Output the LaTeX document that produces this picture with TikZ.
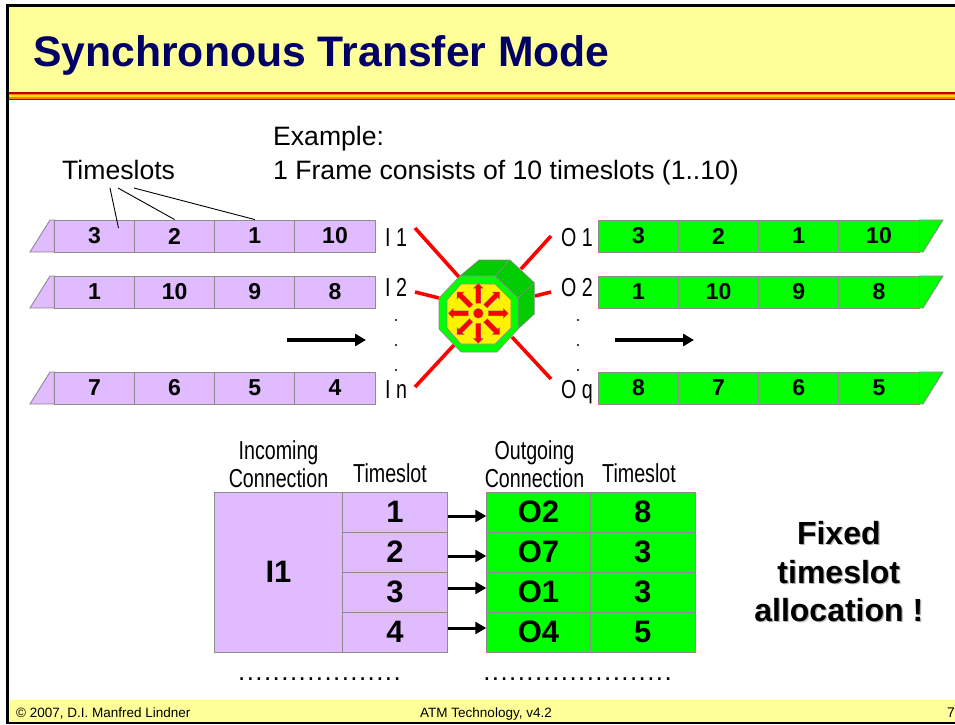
\documentclass[tikz,border=0pt]{standalone}
\usepackage{fontspec}
\setmainfont{Liberation Sans}
\newfontfamily\narrowfont[FakeStretch=0.756]{Liberation Sans}
\newfontfamily\dotfont[LetterSpace=5.4]{Liberation Sans}
\usetikzlibrary{arrows.meta}
\definecolor{lilac}{RGB}{224,187,255}
\definecolor{gogreen}{RGB}{0,255,0}
\definecolor{darkgreen}{RGB}{0,204,0}
\definecolor{headyellow}{RGB}{255,255,153}
\definecolor{titleblue}{RGB}{0,0,102}
\definecolor{edgegray}{RGB}{140,140,140}
\tikzset{
  cellin/.style={draw=edgegray,line width=0.9pt,fill=lilac,minimum width=80.2pt,minimum height=32pt,inner sep=0pt,font=\fontsize{23}{23}\selectfont\bfseries},
  cellout/.style={cellin,fill=gogreen},
  tabin/.style={cellin,minimum width=104.3pt,minimum height=40pt,font=\fontsize{31}{31}\selectfont\bfseries},
  tabout/.style={tabin,fill=gogreen},
  lbl/.style={inner sep=0pt,font=\fontsize{26.6}{28}\selectfont},
  narrow/.style={inner sep=0pt,align=center,font=\narrowfont\fontsize{26}{28.5}\selectfont},
  footer/.style={inner sep=0pt,font=\fontsize{13.5}{16}\selectfont},
  redline/.style={draw=red,line width=3.6pt},
  flow/.style={line width=3.2pt,-{Triangle[length=11pt,width=12pt]}},
  shortflow/.style={line width=3pt,-{Triangle[length=11pt,width=12pt]}},
  dots/.style={inner sep=0pt,font=\dotfont\fontsize{26}{26}\selectfont},
  spoke/.style={draw=edgegray,line width=0.3pt,fill=red}
}
\begin{document}
\begin{tikzpicture}[x=1pt,y=-1pt]
    \useasboundingbox (0,0) rectangle (955,724);
    % header and footer
    \fill[white] (0,0) rectangle (955,724);
    \fill[headyellow] (7,6) rectangle (955,92);
    \fill[headyellow] (7,700) rectangle (955,722);
    \fill[red!75!black] (7,92) rectangle (955,100);
    \fill[orange] (7,93.5) rectangle (955,98.5);
    \fill[yellow!85!orange] (7,95.2) rectangle (955,96.8);
    \draw[line width=2.6pt] (7.7,723) -- (7.7,5.4) -- (955,5.4);
    \draw[line width=2.4pt] (6,722.8) -- (955,722.8);
    \node[anchor=base west,inner sep=0pt,text=titleblue,font=\fontsize{42.7}{43}\selectfont\bfseries] (title) at (33,66) {Synchronous Transfer Mode};
    \node[anchor=base west,footer] (copyright) at (16,717) {© 2007, D.I. Manfred Lindner};
    \node[anchor=base,footer] (version) at (486,717) {ATM Technology, v4.2};
    \node[anchor=base west,footer,font=\fontsize{14}{14}\selectfont] (page) at (947,717) {7};

    % top labels
    \node[lbl,anchor=base west] (example) at (273,145) {Example:};
    \node[lbl,anchor=base west] (frame) at (273,179) {1 Frame consists of 10 timeslots (1..10)};
    \node[lbl,anchor=base west] (slots) at (62,179) {Timeslots};

    % incoming frames
    \foreach \row/\ypos/\va/\vb/\vc/\vd in {a/236/3/2/1/10,b/292/1/10/9/8,c/388/7/6/5/4}{
        \filldraw[draw=edgegray,line width=0.9pt,fill=lilac] (30,\ypos+16) -- (50,\ypos-16) -- (54.3,\ypos-16) -- (54.3,\ypos+16) -- cycle;
        \node[cellin] (in\row1) at (94.4,\ypos) {\va};
        \node[cellin] (in\row2) at (174.6,\ypos) {\vb};
        \node[cellin] (in\row3) at (254.8,\ypos) {\vc};
        \node[cellin] (in\row4) at (335,\ypos) {\vd};
    }
    % outgoing frames
    \foreach \row/\ypos/\va/\vb/\vc/\vd in {a/236/3/2/1/10,b/292/1/10/9/8,c/388/8/7/6/5}{
        \filldraw[draw=edgegray,line width=0.9pt,fill=gogreen] (919,\ypos-16) -- (943,\ypos-16) -- (923,\ypos+16) -- (919,\ypos+16) -- cycle;
        \node[cellout] (out\row1) at (638.4,\ypos) {\va};
        \node[cellout] (out\row2) at (718.6,\ypos) {\vb};
        \node[cellout] (out\row3) at (798.8,\ypos) {\vc};
        \node[cellout] (out\row4) at (879,\ypos) {\vd};
    }
    % pointers to the slots
    \coordinate (ptra) at (110,188);
    \coordinate (ptrb) at (118,188);
    \coordinate (ptrc) at (134,188);
    \coordinate (ptrend) at (118.5,228);
    \draw[line width=0.9pt] (ptra) -- (ptrend);
    \draw[line width=0.9pt] (ptrb) -- (ina2.north);
    \draw[line width=0.9pt] (ptrc) -- (ina3.north);

    % direction arrows
    \coordinate (fla) at (287,340);
    \coordinate (flb) at (366,340);
    \coordinate (flc) at (615,340);
    \coordinate (fld) at (694,340);
    \draw[flow] (fla) -- (flb);
    \draw[flow] (flc) -- (fld);

    % port labels
    \node[narrow,anchor=base west] (i1) at (385,246) {I 1};
    \node[narrow,anchor=base west] (i2) at (385,296) {I 2};
    \node[narrow,anchor=base west] (in) at (385,398) {I n};
    \node[narrow,anchor=base west] (o1) at (561,246) {O 1};
    \node[narrow,anchor=base west] (o2) at (561,296) {O 2};
    \node[narrow,anchor=base west] (oq) at (561,398) {O q};
    \foreach \xpos in {396,578}{
        \foreach \ypos in {320,345,370}{
            \fill (\xpos,\ypos) circle (1.1);
        }
    }

    % red lines to the switch
    \foreach \name/\xa/\ya/\xb/\yb in {la/415/228/459/277,lb/415/292/439/298,lc/415/387/454/345,ld/551/236/521/269,le/551/292/535/296,lf/551/379/512/337}{
        \coordinate (\name s) at (\xa,\ya);
        \coordinate (\name e) at (\xb,\yb);
        \draw[redline] (\name s) -- (\name e);
    }

    % switch
    \filldraw[draw=edgegray,line width=0.7pt,fill=darkgreen] (460,276) -- (479,260) -- (510,260) -- (534.3,282.7) -- (534.3,314) -- (518,329) -- (518,298) -- (495,276) -- cycle;
    \draw[edgegray,line width=0.7pt] (495,276) -- (510,260);
    \draw[edgegray,line width=0.7pt] (518,298) -- (534.3,282.7);
    \filldraw[draw=edgegray,line width=0.7pt,fill=gogreen] (460,276) -- (495,276) -- (518,298) -- (518,329) -- (497,352) -- (461,352) -- (439,329) -- (439,298) -- cycle;
    \filldraw[draw=edgegray,line width=0.7pt,fill=yellow] (461,284) -- (495,284) -- (511,300) -- (511,328) -- (495,344) -- (461,344) -- (447,328) -- (447,300) -- cycle;
    \node[circle,spoke,minimum size=10pt,inner sep=0pt] (hub) at (478.3,313.3) {};
    \foreach \ang in {0,45,...,315}{
        \begin{scope}[shift={(478.3,313.3)},rotate=\ang]
            \filldraw[spoke] (10,-2.5) -- (25,-2.5) -- (25,-5) -- (30,0) -- (25,5) -- (25,2.5) -- (10,2.5) -- cycle;
        \end{scope}
    }

    % table
    \node[narrow] (incoming) at (278.5,464) {Incoming\\Connection};
    \node[narrow] (slothead) at (390,473) {Timeslot};
    \node[narrow] (outgoing) at (534.5,464) {Outgoing\\Connection};
    \node[narrow] (slotheadb) at (639,473) {Timeslot};
    \node[tabin,minimum width=128.4pt,minimum height=160.3pt] (iconn) at (278.5,572.2) {I1};
    \foreach \num/\ypos/\conn/\slot/\shift in {1/512/O2/8/-4,2/552/O7/3/-4,3/592/O1/3/4,4/632/O4/5/4}{
        \node[tabin] (s\num) at (394.9,\ypos) {\num};
        \node[tabout,minimum width=103.6pt] (c\num) at (538.5,\ypos) {\conn};
        \node[tabout,minimum width=104.7pt] (t\num) at (642.65,\ypos) {\slot};
        \draw[shortflow] ([yshift=\shift pt]s\num.east) -- ([yshift=\shift pt]c\num.west);
    }
    \node[dots,anchor=base] (dotsa) at (319.5,680) {...................};
    \node[dots,anchor=base] (dotsb) at (577.5,680) {......................};

    % note
    \node[align=center,inner sep=0pt,text=gray!60,font=\fontsize{32}{38.5}\selectfont\bfseries] at (840,573) {Fixed\\timeslot\\allocation !};
    \node[align=center,inner sep=0pt,font=\fontsize{32}{38.5}\selectfont\bfseries] (fixed) at (838.8,571.8) {Fixed\\timeslot\\allocation !};
\end{tikzpicture}
\end{document}
